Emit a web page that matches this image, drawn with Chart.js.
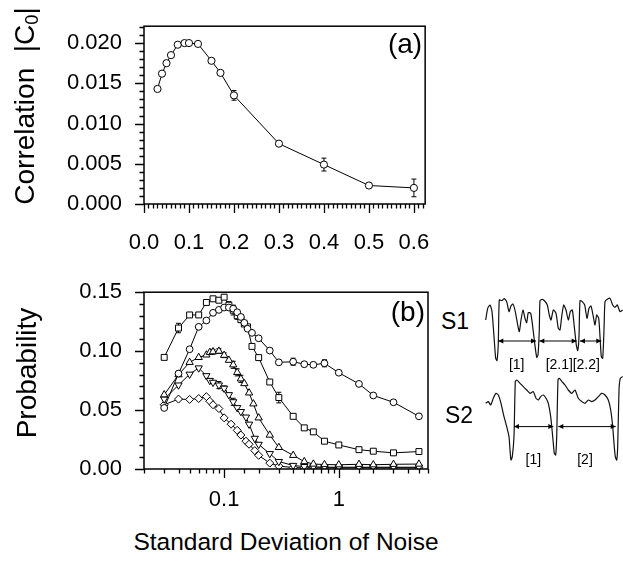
<!DOCTYPE html>
<html>
<head>
<meta charset="utf-8">
<script src="https://cdn.jsdelivr.net/npm/chart.js@4.4.0/dist/chart.umd.min.js"></script>
<style>
  body { margin: 0; background: #fff; width: 623px; height: 564px; position: relative; overflow: hidden;
         font-family: "Liberation Sans", Arial, sans-serif; color: #000; }
  .box { position: absolute; }
  .txt { position: absolute; white-space: nowrap; transform: translate(-50%, -50%); }
  .rot { transform: translate(-50%, -50%) rotate(-90deg); }
  sub { font-size: 65%; vertical-align: -0.25em; }
</style>
</head>
<body>
<div class="box" style="left:0;top:0;width:440px;height:262px"><canvas id="corr"></canvas></div>
<div class="box" style="left:0;top:266px;width:440px;height:250px"><canvas id="prob"></canvas></div>
<div class="box" style="left:485px;top:290px;width:138px;height:85px"><canvas id="s1"></canvas></div>
<div class="box" style="left:485px;top:372px;width:138px;height:100px"><canvas id="s2"></canvas></div>

<div class="txt rot" style="left:26px;top:106px;font-size:28px">Correlation&nbsp;&nbsp;|C<sub>0</sub>|</div>
<div class="txt rot" style="left:27px;top:373px;font-size:28px">Probability</div>
<div class="txt" style="left:286px;top:542px;font-size:24.5px">Standard Deviation of Noise</div>
<div class="txt" style="left:455px;top:321px;font-size:23px">S1</div>
<div class="txt" style="left:459px;top:415px;font-size:23px">S2</div>

<script>
// panel (a): correlation vs noise
const corrNoise = [0.03, 0.04, 0.05, 0.06, 0.075, 0.09, 0.1, 0.12, 0.15, 0.17, 0.2, 0.3, 0.4, 0.5, 0.6];
const corrValue = [0.0143, 0.0162, 0.0175, 0.0185, 0.0198, 0.0200, 0.0200, 0.0199, 0.0178, 0.0163, 0.0135, 0.0075, 0.0049, 0.0023, 0.0020];
const corrErr   = [0, 0, 0, 0, 0, 0, 0, 0, 0, 0, 0.0006, 0, 0.0008, 0, 0.0011];

// panel (b): probability vs noise (log x)
const circNoise = [0.03, 0.04, 0.05, 0.06, 0.07, 0.08, 0.09, 0.1, 0.11, 0.12, 0.13, 0.14, 0.15, 0.16, 0.175, 0.2, 0.25, 0.3, 0.4, 0.5, 0.6, 0.75, 1, 1.5, 2, 3, 5];
const circProb  = [0.0518, 0.0810, 0.1016, 0.1206, 0.1260, 0.1325, 0.1350, 0.1370, 0.1370, 0.1360, 0.1330, 0.1290, 0.1240, 0.1190, 0.1155, 0.1109, 0.1005, 0.0905, 0.0910, 0.0889, 0.0884, 0.0897, 0.0817, 0.0722, 0.0624, 0.0566, 0.0447];
const circErr   = [0, 0, 0, 0, 0, 0, 0, 0, 0, 0.003, 0, 0, 0, 0, 0, 0, 0, 0, 0.003, 0.002, 0.002, 0.003, 0, 0, 0, 0, 0];

const sqNoise = [0.03, 0.04, 0.05, 0.06, 0.07, 0.08, 0.09, 0.1, 0.11, 0.12, 0.13, 0.14, 0.15, 0.16, 0.175, 0.2, 0.25, 0.3, 0.4, 0.5, 0.6, 0.75, 1, 1.5, 2, 3, 5];
const sqProb  = [0.0947, 0.1196, 0.1307, 0.1307, 0.1413, 0.1444, 0.1432, 0.1458, 0.1390, 0.1347, 0.1300, 0.1267, 0.1230, 0.1206, 0.1040, 0.0945, 0.0738, 0.0606, 0.0447, 0.0349, 0.0315, 0.0236, 0.0204, 0.0164, 0.0151, 0.0137, 0.0148];
const sqErr   = [0, 0.004, 0, 0, 0, 0, 0, 0.002, 0.003, 0.004, 0.003, 0, 0, 0, 0, 0, 0, 0.0045, 0, 0, 0, 0, 0, 0, 0, 0, 0];

const upNoise = [0.03, 0.04, 0.05, 0.06, 0.07, 0.075, 0.08, 0.09, 0.1, 0.11, 0.12, 0.13, 0.14, 0.15, 0.165, 0.18, 0.2, 0.25, 0.3, 0.4, 0.5, 0.6, 0.75, 1, 1.5, 2, 3, 5];
const upProb  = [0.0630, 0.0800, 0.0905, 0.0947, 0.0968, 0.0990, 0.0995, 0.1000, 0.0965, 0.0923, 0.0884, 0.0820, 0.0765, 0.0725, 0.0646, 0.0553, 0.0434, 0.0288, 0.0183, 0.0116, 0.0063, 0.0042, 0.0038, 0.0036, 0.0040, 0.0036, 0.0040, 0.0042];
const upErr   = [0, 0, 0, 0, 0, 0, 0.002, 0.002, 0.002, 0, 0.003, 0.003, 0.003, 0, 0, 0, 0, 0, 0, 0, 0, 0, 0, 0, 0, 0, 0, 0];

const downNoise = [0.03, 0.04, 0.05, 0.06, 0.07, 0.075, 0.08, 0.09, 0.1, 0.11, 0.12, 0.13, 0.14, 0.155, 0.165, 0.185, 0.2, 0.25, 0.3, 0.4, 0.5, 0.6, 0.75, 1, 1.5, 2, 3, 5];
const downProb  = [0.0593, 0.0712, 0.0804, 0.0857, 0.0791, 0.0751, 0.0735, 0.0712, 0.0685, 0.0630, 0.0570, 0.0520, 0.0487, 0.0440, 0.0380, 0.0260, 0.0209, 0.0130, 0.0063, 0.0030, 0.0020, 0.0018, 0.0015, 0.0015, 0.0015, 0.0015, 0.0015, 0.0015];
const downErr   = [0, 0, 0, 0, 0, 0, 0, 0.003, 0.002, 0, 0.003, 0, 0, 0, 0, 0, 0, 0, 0, 0, 0, 0, 0, 0, 0, 0, 0, 0];

const diaNoise = [0.03, 0.04, 0.05, 0.06, 0.07, 0.075, 0.08, 0.09, 0.1, 0.115, 0.13, 0.14, 0.155, 0.165, 0.185, 0.2, 0.25, 0.3, 0.4, 0.5, 0.6, 0.75, 1, 1.5, 2, 3, 5];
const diaProb  = [0.0545, 0.0593, 0.0590, 0.0598, 0.0614, 0.0575, 0.0545, 0.0513, 0.0434, 0.0380, 0.0328, 0.0288, 0.0236, 0.0210, 0.0156, 0.0116, 0.0050, 0.0025, 0.0012, 0.0010, 0.0010, 0.0010, 0.0010, 0.0010, 0.0010, 0.0010, 0.0010];

// inset traces (time in arbitrary units, amplitude in arbitrary units)
const s1Time  = [0.7, 2.7, 5, 7, 9, 10.7, 12, 13.3, 14.3, 17, 19.3, 21.7, 24, 26, 28, 30.3, 32.7, 34.3, 36, 38, 40, 41.7, 43.3, 45.7, 47.7, 49.7, 51.7, 53, 54.3, 55, 57.3, 59.7, 62.3, 64.3, 66, 68.3, 71, 73.3, 75, 76.7, 78.7, 81, 83.3, 85.3, 87.3, 89.3, 91.3, 92.7, 94, 95, 97.3, 99.7, 102, 104, 106, 108.3, 110, 111.7, 113.7, 115, 116.3, 117.7, 119, 120, 122.3, 125, 127.7, 130, 132.3, 135, 137.7];
const s1Level = [43.3, 55, 58.3, 51.7, 26.7, 5, 2.7, 20, 63.3, 62.7, 64.7, 61.7, 51.7, 57.3, 59.3, 51.7, 38.3, 31.7, 43.3, 53.3, 45, 40.7, 50.7, 50, 36.7, 20, 6, 8.3, 33.3, 62.7, 64, 62.3, 58.3, 48.3, 43.3, 53.3, 50, 35, 33.3, 46.7, 58.3, 53.3, 43.3, 51.7, 53.3, 36.7, 18.3, 12.7, 26.7, 62.7, 61.7, 58.3, 45, 55, 57.3, 46.7, 38.3, 48.3, 45, 26.7, 6.7, 5, 33.3, 61.7, 64, 65, 58.3, 56, 58.3, 51.7, 53.3];
const s1Spans = [[13.3, 51], [54.3, 91.7], [95, 116.3]];
const s1SpanNames = ['[1]', '[2.1]', '[2.2]'];
const s1NameTime = [31.7, 74.3, 101.3];

const s2Time  = [0.7, 3.3, 5.7, 8.3, 11, 13.3, 16, 19, 21.7, 24, 25, 26, 27.3, 29, 30.3, 31.7, 35, 38.3, 41.7, 45, 48.3, 51, 53.3, 55.7, 58.3, 61, 63.3, 65.7, 67.7, 69.3, 70.7, 71.7, 73, 74.3, 77, 80, 83.3, 86.7, 90, 93.3, 96.7, 100, 103.3, 106.7, 110, 113.3, 116.7, 120, 123.3, 125.7, 127.7, 129, 130.3, 131.7, 132.7, 134, 135.3, 137.7];
const s2Level = [60, 61.7, 58.3, 65, 70, 68.3, 60, 46.7, 36.7, 26.7, 13.3, 3.3, 6.7, 26.7, 81.7, 83.3, 80, 76.7, 73.3, 70, 71.7, 65, 63.3, 66.7, 68.3, 65, 60, 46.7, 26.7, 10, 8.3, 26.7, 83.3, 85, 81.7, 78.3, 73.3, 70, 73.3, 65, 61.7, 60, 63.3, 61.7, 63.3, 66.7, 70, 68.3, 63.3, 53.3, 36.7, 20, 6.7, 3.3, 16.7, 73.3, 85, 86.7];
const s2Spans = [[29, 68.3], [73.3, 130.7]];
const s2SpanNames = ['[1]', '[2]'];
const s2NameTime = [48.3, 100];

const FONT = '"Liberation Sans", Arial, sans-serif';
Chart.defaults.font.family = FONT;
Chart.defaults.color = '#000';
Chart.defaults.animation = false;

const toPts = (xs, ys) => xs.map((x, i) => ({ x: x, y: ys[i] }));

// box, tick marks and panel tag
const frame = {
  id: 'frame',
  afterDraw(chart, args, opts) {
    const ctx = chart.ctx, a = chart.chartArea;
    ctx.save();
    ctx.strokeStyle = '#000';
    ctx.lineWidth = 1.5;
    ctx.strokeRect(a.left, a.top, a.right - a.left, a.bottom - a.top);
    ctx.lineWidth = 1.3;
    ctx.beginPath();
    const xs = chart.scales.x, ys = chart.scales.y;
    xs.ticks.forEach(t => {
      const p = Math.round(xs.getPixelForValue(t.value)) + 0.5;
      ctx.moveTo(p, a.bottom);
      ctx.lineTo(p, a.bottom + (t.label ? 9 : 4.5));
    });
    ys.ticks.forEach(t => {
      const p = Math.round(ys.getPixelForValue(t.value)) + 0.5;
      ctx.moveTo(a.left, p);
      ctx.lineTo(a.left - (t.label ? 9 : 4.5), p);
    });
    ctx.stroke();
    ctx.font = '28px ' + FONT;
    ctx.fillStyle = '#000';
    ctx.textAlign = 'right';
    ctx.textBaseline = 'middle';
    ctx.fillText(opts.tag, a.right - 3, a.top + opts.tagDy);
    ctx.restore();
  }
};

// vertical error bars, drawn under the markers
const errorBars = {
  id: 'errorBars',
  beforeDatasetsDraw(chart) {
    const ctx = chart.ctx, xs = chart.scales.x, ys = chart.scales.y;
    ctx.save();
    ctx.strokeStyle = '#000';
    ctx.lineWidth = 1;
    chart.data.datasets.forEach(ds => {
      if (!ds.errs) return;
      ds.data.forEach((p, i) => {
        const e = ds.errs[i];
        if (!e) return;
        const px = xs.getPixelForValue(p.x);
        const y0 = ys.getPixelForValue(p.y - e), y1 = ys.getPixelForValue(p.y + e);
        ctx.beginPath();
        ctx.moveTo(px, y0); ctx.lineTo(px, y1);
        ctx.moveTo(px - 2.5, y0); ctx.lineTo(px + 2.5, y0);
        ctx.moveTo(px - 2.5, y1); ctx.lineTo(px + 2.5, y1);
        ctx.stroke();
      });
    });
    ctx.restore();
  }
};

// double-headed interval arrows for the inset traces
const spanArrows = {
  id: 'spanArrows',
  afterDatasetsDraw(chart, args, opts) {
    const ctx = chart.ctx, xs = chart.scales.x, ys = chart.scales.y;
    const py = ys.getPixelForValue(opts.level);
    ctx.save();
    ctx.strokeStyle = '#000';
    ctx.fillStyle = '#000';
    ctx.lineWidth = 1;
    const head = (x, dir) => {
      ctx.beginPath();
      ctx.moveTo(x, py);
      ctx.lineTo(x + dir * 5, py - 2.5);
      ctx.lineTo(x + dir * 5, py + 2.5);
      ctx.closePath();
      ctx.fill();
    };
    opts.spans.forEach(s => {
      const x0 = xs.getPixelForValue(s[0]), x1 = xs.getPixelForValue(s[1]);
      ctx.beginPath();
      ctx.moveTo(x0, py); ctx.lineTo(x1, py);
      ctx.stroke();
      head(x0, 1);
      head(x1, -1);
    });
    ctx.font = '14px ' + FONT;
    ctx.textAlign = 'center';
    ctx.textBaseline = 'middle';
    opts.names.forEach((n, i) => {
      ctx.fillText(n, xs.getPixelForValue(opts.nameTime[i]), ys.getPixelForValue(opts.nameLevel));
    });
    ctx.restore();
  }
};

const tickFont = { size: 22, family: FONT };
const markerStyle = {
  showLine: true,
  borderColor: '#000',
  borderWidth: 1,
  pointBackgroundColor: '#fff',
  pointBorderColor: '#000',
  pointBorderWidth: 1,
  pointHoverRadius: 4
};

// ---- panel (a)
new Chart(document.getElementById('corr'), {
  type: 'scatter',
  data: {
    datasets: [{
      ...markerStyle,
      data: toPts(corrNoise, corrValue),
      errs: corrErr,
      pointStyle: 'circle',
      pointRadius: 3.6
    }]
  },
  options: {
    responsive: true,
    maintainAspectRatio: false,
    layout: { padding: { top: 13, right: 12, left: 0, bottom: 0 } },
    plugins: { legend: { display: false }, tooltip: { enabled: false }, frame: { tag: '(a)', tagDy: 19 } },
    scales: {
      x: {
        type: 'linear', min: 0, max: 0.625,
        grid: { display: false, drawTicks: true, tickLength: 9 },
        border: { display: false },
        afterFit: s => { s.height = 58; },
        ticks: {
          stepSize: 0.01, autoSkip: false, maxRotation: 0, includeBounds: false, padding: 17, font: tickFont,
          callback: v => (Math.round(v * 100) % 10 === 0 ? v.toFixed(1) : '')
        }
      },
      y: {
        type: 'linear', min: 0, max: 0.0221,
        grid: { display: false, drawTicks: true, tickLength: 9 },
        border: { display: false },
        afterFit: s => { s.width = 144; },
        ticks: {
          stepSize: 0.001, autoSkip: false, includeBounds: false, padding: 13, font: tickFont,
          callback: v => (Math.round(v * 1000) % 5 === 0 ? v.toFixed(3) : '')
        }
      }
    }
  },
  plugins: [frame, errorBars]
});

// ---- panel (b)
new Chart(document.getElementById('prob'), {
  type: 'scatter',
  data: {
    datasets: [
      { ...markerStyle, data: toPts(circNoise, circProb), errs: circErr, pointStyle: 'circle', pointRadius: 3.4 },
      { ...markerStyle, data: toPts(sqNoise, sqProb), errs: sqErr, pointStyle: 'rect', pointRadius: 4.2 },
      { ...markerStyle, data: toPts(upNoise, upProb), errs: upErr, pointStyle: 'triangle', pointRadius: 4.2 },
      { ...markerStyle, data: toPts(downNoise, downProb), errs: downErr, pointStyle: 'triangle', pointRotation: 180, pointRadius: 4.2 },
      { ...markerStyle, data: toPts(diaNoise, diaProb), pointStyle: 'rectRot', pointRadius: 4 }
    ]
  },
  options: {
    responsive: true,
    maintainAspectRatio: false,
    layout: { padding: { top: 13, right: 12, left: 0, bottom: 0 } },
    plugins: { legend: { display: false }, tooltip: { enabled: false }, frame: { tag: '(b)', tagDy: 21 } },
    scales: {
      x: {
        type: 'logarithmic', min: 0.02, max: 6,
        grid: { display: false, drawTicks: true, tickLength: 9 },
        border: { display: false },
        afterFit: s => { s.height = 47; },
        ticks: {
          autoSkip: false, maxRotation: 0, padding: 9, font: tickFont,
          callback: v => {
            const l = Math.log10(v);
            if (Math.abs(l - Math.round(l)) > 1e-6) return '';
            return Math.round(l) === 0 ? '1' : (Math.round(l) === -1 ? '0.1' : '');
          }
        }
      },
      y: {
        type: 'linear', min: 0, max: 0.15,
        grid: { display: false, drawTicks: true, tickLength: 9 },
        border: { display: false },
        afterFit: s => { s.width = 144; },
        ticks: {
          stepSize: 0.01, autoSkip: false, includeBounds: false, padding: 13, font: tickFont,
          callback: v => (Math.round(v * 100) % 5 === 0 ? v.toFixed(2) : '')
        }
      }
    }
  },
  plugins: [frame, errorBars]
});

// ---- inset traces
function trace(id, time, level, yMin, yMax, arrows) {
  new Chart(document.getElementById(id), {
    type: 'scatter',
    data: {
      datasets: [{
        data: toPts(time, level),
        showLine: true,
        borderColor: '#111',
        borderWidth: 1.2,
        pointRadius: 0,
        tension: 0.2
      }]
    },
    options: {
      responsive: true,
      maintainAspectRatio: false,
      layout: { padding: 0 },
      plugins: { legend: { display: false }, tooltip: { enabled: false }, spanArrows: arrows },
      scales: {
        x: { type: 'linear', min: 0, max: 138, display: false },
        y: { type: 'linear', min: yMin, max: yMax, display: false }
      }
    },
    plugins: [spanArrows]
  });
}

trace('s1', s1Time, s1Level, -11.7, 73.3,
  { level: 22.3, spans: s1Spans, names: s1SpanNames, nameTime: s1NameTime, nameLevel: -1.7 });
trace('s2', s2Time, s2Level, -8.7, 91.3,
  { level: 36.7, spans: s2Spans, names: s2SpanNames, nameTime: s2NameTime, nameLevel: 3.3 });
</script>
</body>
</html>
